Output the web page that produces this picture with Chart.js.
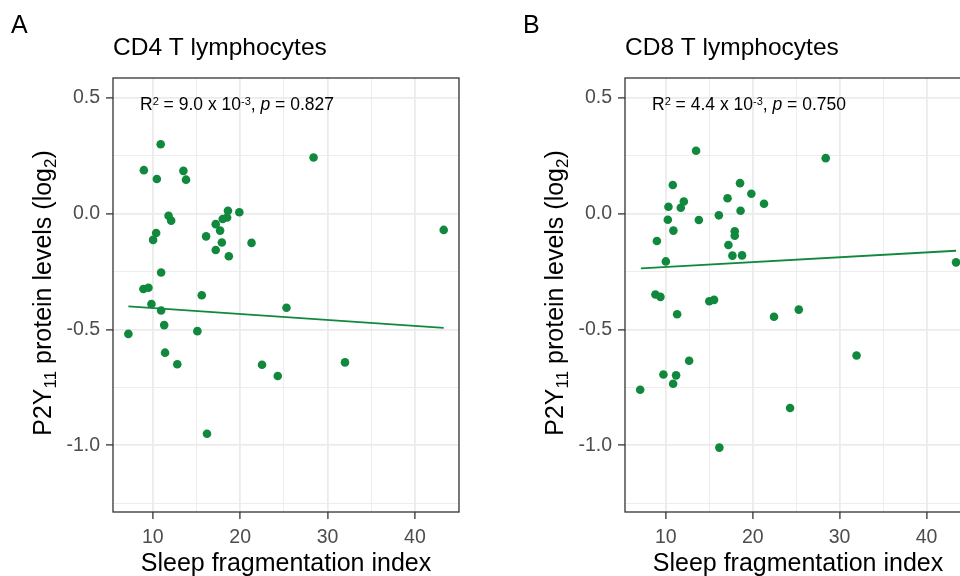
<!DOCTYPE html>
<html>
<head>
<meta charset="utf-8">
<script src="https://cdn.jsdelivr.net/npm/chart.js@4.4.1/dist/chart.umd.min.js"></script>
<style>
  body { margin: 0; width: 960px; height: 576px; overflow: hidden; background: #fff; position: relative; }
  canvas { position: absolute; top: 0; }
  #chartA { left: 0; }
  #chartB { left: 512px; }
</style>
</head>
<body>
<canvas id="chartA" width="480" height="576"></canvas>
<canvas id="chartB" width="480" height="576"></canvas>
<script>
//data
const cd4Sfi = [10.9, 8.97, 10.46, 13.5, 13.8, 28.4, 11.8, 12.1, 18.6, 19.9, 18.5, 18.0, 17.2, 17.7, 10.38, 10.03, 16.1, 17.9, 17.2, 18.7, 21.3, 43.3, 10.95, 8.92, 9.5, 15.6, 9.84, 10.95, 25.3, 11.3, 7.2, 15.1, 11.4, 12.8, 22.5, 24.3, 32.0, 16.2];
const cd4Levels = [0.30, 0.188, 0.15, 0.185, 0.147, 0.243, -0.009, -0.03, 0.013, 0.006, -0.016, -0.023, -0.045, -0.073, -0.083, -0.113, -0.098, -0.124, -0.157, -0.184, -0.126, -0.07, -0.254, -0.325, -0.32, -0.352, -0.39, -0.418, -0.406, -0.481, -0.519, -0.507, -0.60, -0.65, -0.652, -0.701, -0.642, -0.95];
const cd4FitX = [7.2, 43.3];
const cd4FitY = [-0.40, -0.493];

const cd8Sfi = [13.48, 28.4, 10.8, 18.54, 19.84, 17.1, 21.3, 12.07, 11.72, 10.3, 18.6, 16.1, 10.23, 13.8, 10.87, 17.93, 17.93, 8.97, 17.2, 17.66, 18.77, 10.0, 43.4, 8.8, 9.38, 15.0, 15.55, 11.3, 22.45, 25.3, 31.95, 12.68, 9.72, 11.18, 10.84, 7.05, 24.3, 16.16];
const cd8Levels = [0.272, 0.24, 0.124, 0.132, 0.086, 0.067, 0.043, 0.053, 0.026, 0.03, 0.013, -0.007, -0.026, -0.027, -0.073, -0.076, -0.095, -0.118, -0.135, -0.181, -0.18, -0.206, -0.21, -0.349, -0.359, -0.378, -0.372, -0.434, -0.445, -0.414, -0.612, -0.635, -0.694, -0.698, -0.734, -0.76, -0.839, -1.01];
const cd8FitX = [7.13, 43.4];
const cd8FitY = [-0.236, -0.16];

//tick labels
const xTicks = [10, 20, 30, 40];
const yTicks = [0.5, 0.0, -0.5, -1.0];

const green = "rgb(16,137,62)";
const fontName = "'Liberation Sans', Arial, sans-serif";

//draw text made of pieces (sub/superscripts, italics)
function drawRich(ctx, parts, x, y, center) {
  let total = 0;
  parts.forEach((p) => {
    ctx.font = (p.italic ? "italic " : "") + p.size + "px " + fontName;
    p.w = ctx.measureText(p.t).width;
    total += p.w;
  });
  let cx = center ? x - total / 2 : x;
  parts.forEach((p) => {
    ctx.font = (p.italic ? "italic " : "") + p.size + "px " + fontName;
    ctx.fillText(p.t, cx, y + (p.dy || 0));
    cx += p.w;
  });
}

const panelDecor = {
  id: "panelDecor",
  afterDraw(chart, args, opts) {
    const ctx = chart.ctx;
    const a = chart.chartArea;
    ctx.save();
    //panel border
    ctx.strokeStyle = "#333333";
    ctx.lineWidth = 1.3;
    ctx.strokeRect(a.left, a.top, a.right - a.left, a.bottom - a.top);

    ctx.fillStyle = "#000";
    ctx.textAlign = "left";
    ctx.textBaseline = "alphabetic";
    ctx.font = "25px " + fontName;
    ctx.fillText(opts.letter, 11, 33);
    ctx.font = "24.5px " + fontName;
    ctx.fillText(opts.title, a.left, 55);

    //R2 / p annotation
    drawRich(ctx, [
      { t: "R", size: 17.5 },
      { t: "2", size: 11, dy: -5 },
      { t: " = " + opts.r2 + " x 10", size: 17.5 },
      { t: "-3", size: 11, dy: -5 },
      { t: ", ", size: 17.5 },
      { t: "p", size: 17.5, italic: true },
      { t: " = " + opts.p, size: 17.5 },
    ], a.left + 27, 110, false);

    //y axis title
    ctx.translate(51, (a.top + a.bottom) / 2 - 2);
    ctx.rotate(-Math.PI / 2);
    drawRich(ctx, [
      { t: "P2Y", size: 25 },
      { t: "11", size: 17, dy: 5 },
      { t: " protein levels (log", size: 25 },
      { t: "2", size: 17, dy: 5 },
      { t: ")", size: 25 },
    ], 0, 0, true);
    ctx.restore();
  },
};

function isMajor(list, v) {
  return list.some((t) => Math.abs(t - v) < 1e-6);
}

function makePanel(canvasId, sfi, levels, fitX, fitY, xMin, xMax, decor) {
  const points = sfi.map((x, i) => ({ x: x, y: levels[i] }));
  const fit = fitX.map((x, i) => ({ x: x, y: fitY[i] }));
  return new Chart(document.getElementById(canvasId), {
    type: "scatter",
    data: {
      datasets: [
        {
          data: fit,
          showLine: true,
          borderColor: green,
          borderWidth: 1.8,
          pointRadius: 0,
          fill: false,
          order: 0,
        },
        {
          data: points,
          backgroundColor: green,
          borderWidth: 0,
          pointRadius: 4.3,
          order: 1,
        },
      ],
    },
    options: {
      responsive: false,
      animation: false,
      events: [],
      layout: { autoPadding: false, padding: { top: 78, right: 21, left: 0, bottom: 0 } },
      plugins: { legend: { display: false }, tooltip: { enabled: false }, panelDecor: decor },
      scales: {
        x: {
          type: "linear",
          min: xMin,
          max: xMax,
          afterFit: (s) => { s.height = 64; },
          border: { display: false },
          grid: {
            color: "#ebebeb",
            lineWidth: (c) => (isMajor(xTicks, c.tick.value) ? 1.8 : 0.9),
            tickColor: (c) => (isMajor(xTicks, c.tick.value) ? "#333333" : "rgba(0,0,0,0)"),
            tickLength: 7,
            tickWidth: 1.3,
          },
          ticks: {
            stepSize: 5,
            includeBounds: false,
            autoSkip: false,
            maxRotation: 0,
            padding: 7,
            color: "#4d4d4d",
            font: { family: fontName, size: 19.5 },
            callback: (v) => (isMajor(xTicks, v) ? String(v) : ""),
          },
          title: {
            display: true,
            text: "Sleep fragmentation index",
            color: "#000",
            font: { family: fontName, size: 25, lineHeight: 1 },
            padding: { top: 0, bottom: -1 },
          },
        },
        y: {
          type: "linear",
          min: -1.288,
          max: 0.586,
          afterFit: (s) => { s.width = 113; },
          border: { display: false },
          grid: {
            color: "#ebebeb",
            lineWidth: (c) => (isMajor(yTicks, c.tick.value) ? 1.8 : 0.9),
            tickColor: (c) => (isMajor(yTicks, c.tick.value) ? "#333333" : "rgba(0,0,0,0)"),
            tickLength: 7,
            tickWidth: 1.3,
          },
          ticks: {
            stepSize: 0.25,
            includeBounds: false,
            autoSkip: false,
            padding: 6,
            color: "#4d4d4d",
            font: { family: fontName, size: 19.5 },
            callback: (v) => (isMajor(yTicks, v) ? Number(v).toFixed(1) : ""),
          },
        },
      },
    },
    plugins: [panelDecor],
  });
}

makePanel("chartA", cd4Sfi, cd4Levels, cd4FitX, cd4FitY, 5.44, 45.05,
  { letter: "A", title: "CD4 T lymphocytes", r2: "9.0", p: "0.827" });
makePanel("chartB", cd8Sfi, cd8Levels, cd8FitX, cd8FitY, 5.3, 45.12,
  { letter: "B", title: "CD8 T lymphocytes", r2: "4.4", p: "0.750" });
</script>
</body>
</html>
